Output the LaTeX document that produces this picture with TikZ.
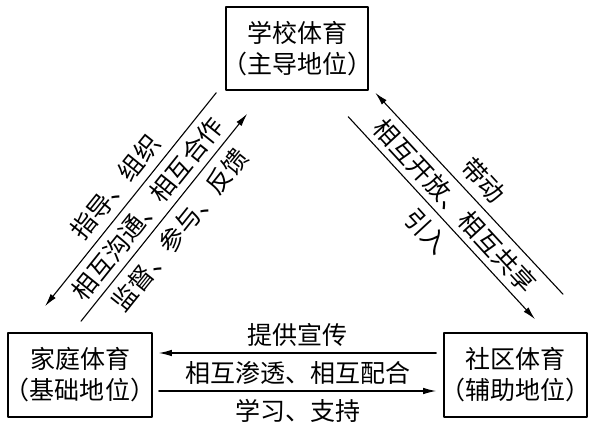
\documentclass[tikz,border=0pt]{standalone}
\usepackage{fontspec}
\newfontfamily\cjkfont{Noto Sans CJK SC}
\usepackage{tikz}
\usetikzlibrary{arrows.meta,calc,positioning}
\tikzset{
every picture/.style={line cap=round,line join=round},
>={Latex[length=13pt,width=6.5pt]},
edu box/.style={
  draw=black,
  line width=1.6pt,
  minimum width=142pt,
  minimum height=83pt,
  inner sep=0pt,
  align=center,
  font=\cjkfont\fontsize{25}{31}\selectfont
},
fig flow/.style={
  draw=black,
  ->,
  line width=1.1pt
},
fig label/.style={font=\cjkfont\fontsize{25}{30}\selectfont, text=black, inner sep=0pt}
}

\begin{document}
\begin{tikzpicture}[x=1pt,y=1pt]
\useasboundingbox (0,0) rectangle (591,429);
\node[edu box] (school) at (297,380.5) {学校体育\\\mbox{\kern-.25em（主导地位）\kern-.25em}};
\node[edu box, minimum width=144pt, minimum height=84pt] (family) at (80,54) {家庭体育\\\mbox{\kern-.25em（基础地位）\kern-.25em}};
\node[edu box, minimum width=143pt, minimum height=84pt] (community) at (515.5,54) {社区体育\\\mbox{\kern-.25em（辅助地位）\kern-.25em}};
\draw[fig flow] ($(school.south west)+(-9,-2)$) -- ($(family.north)+(-35,26)$);
\draw[fig flow] ($(family.north)+(1,11)$) -- ($(school.south west)+(22,-23)$);
\draw[fig flow] ($(community.north)+(47.5,38)$) -- ($(school.south east)+(6.5,-2)$);
\draw[fig flow] ($(school.south east)+(-20.5,-26)$) -- ($(community.north)+(19.5,13)$);
\draw[fig flow] ($(community.west)+(-7,22)$) -- ($(family.east)+(6,22)$);
\draw[fig flow] ($(family.east)+(6,-16)$) -- ($(community.west)+(-7,-16)$);
\node[fig label, rotate=51.3] (guide) at (115.4,242) {指导、组织};
\node[fig label, rotate=51.3] (communicate) at (147.75,220.5) {相互沟通、相互合作};
\node[fig label, rotate=51.3] (supervise) at (180,199) {监督、参与、反馈};
\node[fig label, rotate=-47.3] (drive) at (483.7,249) {带动};
\node[fig label, rotate=-47.3] (share) at (455.25,223) {相互开放、相互共享};
\node[fig label, rotate=-47.3] (introduce) at (426.8,197.4) {引入};
\node[fig label] (publicize) at (297.5,94) {提供宣传};
\node[fig label] (permeate) at (297.5,56) {相互渗透、相互配合};
\node[fig label] (support) at (297.5,18.5) {学习、支持};
\end{tikzpicture}
\end{document}
